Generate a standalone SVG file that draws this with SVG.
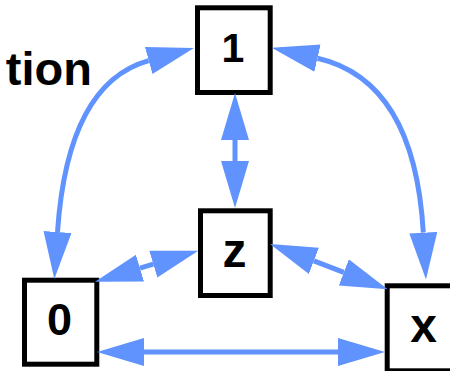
<svg xmlns="http://www.w3.org/2000/svg" width="450" height="371" viewBox="0 0 450 371">
<defs>
<style>
.box{fill:#ffffff;stroke:#000000;stroke-width:5}
.lbl{font-family:"Liberation Sans",Arial,sans-serif;font-weight:bold;fill:#000000;text-anchor:middle}
.edge{fill:none;stroke:#6193ff;stroke-width:5}
</style>
<marker id="ah" markerUnits="userSpaceOnUse" markerWidth="48" markerHeight="30" viewBox="0 0 48 30" refX="0" refY="14" orient="auto-start-reverse">
<path d="M0,0 L47,14 L0,28 Z" fill="#6193ff"/>
</marker>
</defs>
<text x="92" y="85" style="font-family:'Liberation Sans',Arial,sans-serif;font-weight:bold;font-size:47px;text-anchor:end">tion</text>
<g id="node-1">
<rect class="box" x="197.5" y="7.8" width="72.7" height="84.7"/>
<text class="lbl" x="233" y="62.3" style="font-size:41px">1</text>
</g>
<g id="node-z">
<rect class="box" x="200.5" y="210.8" width="69.7" height="84.7"/>
<text class="lbl" x="234.5" y="266.7" style="font-size:48px">z</text>
</g>
<g id="node-0">
<rect class="box" x="24.5" y="280.2" width="72.3" height="84"/>
<text class="lbl" x="59.5" y="334.5" style="font-size:45px">0</text>
</g>
<g id="node-x">
<rect class="box" x="387.2" y="285.8" width="72" height="85"/>
<text class="lbl" x="423.5" y="341.7" style="font-size:48px">x</text>
</g>
<g id="connectors">
<path class="edge" d="M235,140 L235,161" marker-start="url(#ah)" marker-end="url(#ah)"/>
<path class="edge" d="M144,352 L338,352" marker-start="url(#ah)" marker-end="url(#ah)"/>
<path class="edge" d="M140,268.2 L153.3,264.2" marker-start="url(#ah)" marker-end="url(#ah)"/>
<path class="edge" d="M313.9,260.9 L343.8,272.4" marker-start="url(#ah)" marker-end="url(#ah)"/>
<path class="edge" d="M57.5,232 Q67.6,83.2 148.7,60.6" marker-start="url(#ah)" marker-end="url(#ah)"/>
<path class="edge" d="M317.5,58.2 Q414.6,80.5 423.3,232.7" marker-start="url(#ah)" marker-end="url(#ah)"/>
</g>
</svg>
